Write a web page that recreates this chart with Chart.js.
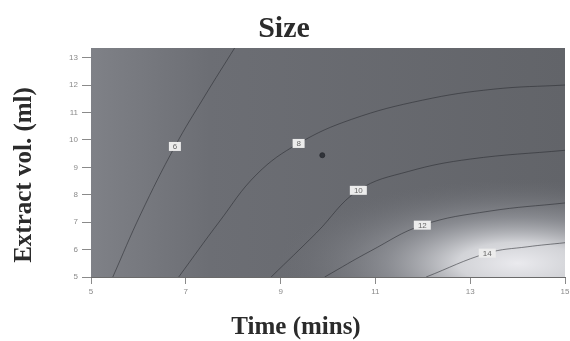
<!DOCTYPE html>
<html>
<head>
<meta charset="utf-8">
<script src="https://cdn.jsdelivr.net/npm/chart.js@4.4.1/dist/chart.umd.min.js"></script>
<style>
  html, body { margin: 0; padding: 0; background: #fff; }
</style>
</head>
<body>
<canvas id="myChart" width="570" height="341"></canvas>
<script>
// -- data (time in mins, extract vol. in ml) --
const xTicks = [5, 7, 9, 11, 13, 15];
const yTicks = [5, 6, 7, 8, 9, 10, 11, 12, 13];

const levels    = ['6', '8', '10', '12', '14'];
const contour6  = [[5.46, 5], [6.05, 7.3], [6.77, 9.76], [7.4, 11.6], [8.03, 13.35]];
const contour8  = [[6.85, 5], [7.7, 7.0], [8.5, 8.75], [9.38, 9.87], [10.5, 10.75], [12, 11.45], [13.5, 11.85], [15, 12.0]];
const contour10 = [[8.8, 5], [9.75, 6.6], [10.64, 8.16], [11.7, 8.85], [13, 9.3], [15, 9.62]];
const contour12 = [[9.93, 5], [10.9, 5.95], [11.99, 6.89], [13.4, 7.4], [15, 7.7]];
const contour14 = [[12.07, 5], [13.36, 5.87], [14.2, 6.1], [15, 6.25]];
const labelAt   = [2, 3, 2, 2, 1];   // which vertex of each contour carries its label
const centrePoint = [[9.88, 9.44]];

const contours = [contour6, contour8, contour10, contour12, contour14];
const toXY = arr => arr.map(p => ({ x: p[0], y: p[1] }));

// shaded surface behind the contours
const surfacePlugin = {
    id: 'surface',
    beforeDatasetsDraw(chart) {
        const { ctx, chartArea: a, scales } = chart;
        ctx.save();
        ctx.beginPath();
        ctx.rect(a.left, a.top, a.width, a.height);
        ctx.clip();
        const lin = ctx.createLinearGradient(a.left, 0, a.right, 0);
        lin.addColorStop(0, '#7f8187');
        lin.addColorStop(0.25, '#6c6e74');
        lin.addColorStop(1, '#626469');
        ctx.fillStyle = lin;
        ctx.fillRect(a.left, a.top, a.width, a.height);

        const cx = scales.x.getPixelForValue(14.0);
        const cy = scales.y.getPixelForValue(5.5);
        ctx.translate(cx, cy);
        ctx.scale(1, 0.35);
        const rad = ctx.createRadialGradient(0, 0, 0, 0, 0, 240);
        rad.addColorStop(0, 'rgba(234,234,238,1)');
        rad.addColorStop(0.25, 'rgba(216,217,221,0.95)');
        rad.addColorStop(0.55, 'rgba(160,162,168,0.6)');
        rad.addColorStop(1, 'rgba(110,112,118,0)');
        ctx.fillStyle = rad;
        ctx.beginPath();
        ctx.arc(0, 0, 240, 0, Math.PI * 2);
        ctx.fill();
        ctx.restore();
    }
};

// contour value boxes + titles
const textPlugin = {
    id: 'texts',
    afterDatasetsDraw(chart) {
        const ctx = chart.ctx;
        ctx.save();
        ctx.font = "8px 'Liberation Sans', Arial, sans-serif";
        ctx.textAlign = 'center';
        ctx.textBaseline = 'middle';
        levels.forEach((lab, i) => {
            const pt = chart.getDatasetMeta(i).data[labelAt[i]];
            const w = lab.length > 1 ? 17 : 12;
            ctx.fillStyle = '#ececec';
            ctx.fillRect(pt.x - w / 2, pt.y - 4.5, w, 9);
            ctx.fillStyle = '#666';
            ctx.fillText(lab, pt.x, pt.y + 0.5);
        });
        ctx.restore();
    },
    afterDraw(chart) {
        const ctx = chart.ctx;
        ctx.save();
        ctx.fillStyle = '#2b2b2b';
        ctx.textAlign = 'center';
        ctx.textBaseline = 'alphabetic';
        ctx.font = "bold 30px 'Liberation Serif', 'Times New Roman', serif";
        ctx.fillText('Size', 284, 37);
        ctx.font = "bold 25px 'Liberation Serif', 'Times New Roman', serif";
        ctx.fillText('Time (mins)', 296, 334);
        ctx.translate(31, 175);
        ctx.rotate(-Math.PI / 2);
        ctx.fillText('Extract vol. (ml)', 0, 0);
        ctx.restore();
    }
};

const lineStyle = {
    showLine: true,
    borderColor: 'rgba(40,42,48,0.55)',
    borderWidth: 1,
    pointRadius: 0,
    tension: 0.4,
    fill: false
};

const ctx = document.getElementById('myChart').getContext('2d');
const myChart = new Chart(ctx, {
    type: 'scatter',
    data: {
        datasets: [
            ...contours.map((c, i) => ({ label: levels[i], data: toXY(c), ...lineStyle })),
            { label: 'centre', data: toXY(centrePoint), pointRadius: 2.5,
              pointBackgroundColor: 'rgba(40,42,48,0.85)', pointBorderColor: 'rgba(40,42,48,0.85)' }
        ]
    },
    plugins: [surfacePlugin, textPlugin],
    options: {
        responsive: false,
        animation: false,
        layout: { padding: { top: 48, right: 4, left: 0, bottom: 0 } },
        plugins: { legend: { display: false }, tooltip: { enabled: false }, title: { display: false } },
        scales: {
            x: {
                type: 'linear', min: 5, max: 15,
                afterBuildTicks: s => { s.ticks = xTicks.map(v => ({ value: v })); },
                afterFit: s => { s.height = 64; s.paddingLeft = 0; s.paddingRight = 0; },
                grid: { drawOnChartArea: false, drawTicks: true, tickLength: 7, color: '#8a8a8a' },
                border: { display: true, color: '#6a6a6a' },
                ticks: { color: '#8a8a8a', padding: 3, font: { size: 8, family: "'Liberation Sans', Arial, sans-serif" } }
            },
            y: {
                type: 'linear', min: 5, max: 13.35,
                afterBuildTicks: s => { s.ticks = yTicks.map(v => ({ value: v })); },
                afterFit: s => { s.width = 91; s.paddingTop = 0; s.paddingBottom = 0; },
                grid: { drawOnChartArea: false, drawTicks: true, tickLength: 9, color: '#8a8a8a' },
                border: { display: true, color: '#6a6a6a' },
                ticks: { color: '#8a8a8a', padding: 4, font: { size: 8, family: "'Liberation Sans', Arial, sans-serif" } }
            }
        }
    }
});
</script>
</body>
</html>
